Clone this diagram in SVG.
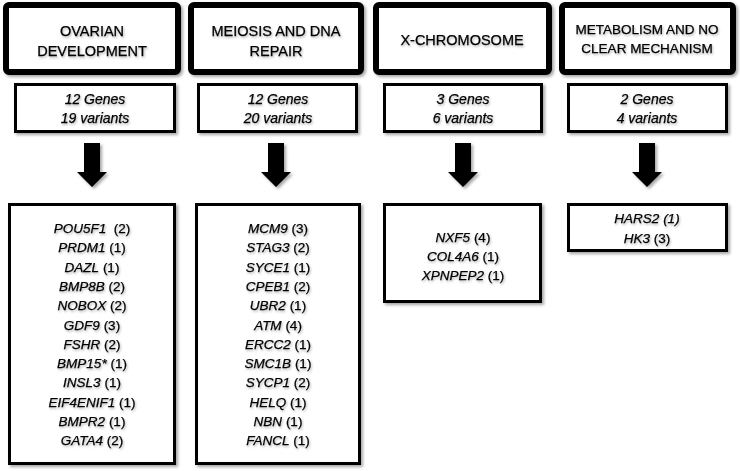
<svg xmlns="http://www.w3.org/2000/svg" width="740" height="471" viewBox="0 0 740 471">
<defs>
<filter id="sh" x="-10%" y="-10%" width="130%" height="130%">
<feDropShadow dx="2" dy="2" stdDeviation="1.5" flood-color="#000" flood-opacity="0.35"/>
</filter>
<filter id="tsh" x="-10%" y="-20%" width="130%" height="160%">
<feDropShadow dx="1" dy="1.5" stdDeviation="1" flood-color="#000" flood-opacity="0.3"/>
</filter>
<style>
.title{fill:#fff;stroke:#000;stroke-width:6;filter:url(#sh)}
.box{fill:#fff;stroke:#000;stroke-width:3;filter:url(#sh)}
.tt{font-family:"Liberation Sans",Arial,sans-serif;font-size:14.5px;fill:#000;stroke:#000;stroke-width:0.25;text-anchor:middle;filter:url(#tsh)}
.ct{font-family:"Liberation Sans",Arial,sans-serif;font-size:14px;font-style:italic;fill:#000;stroke:#000;stroke-width:0.25;text-anchor:middle;filter:url(#tsh)}
.gt{font-family:"Liberation Sans",Arial,sans-serif;font-size:13.5px;fill:#000;stroke:#000;stroke-width:0.25;text-anchor:middle;filter:url(#tsh)}
.i{font-style:italic}
.arrow{fill:#000;filter:url(#sh)}
</style>
</defs>

<g id="title-ovarian">
<rect class="title" x="6" y="5" width="172" height="67" rx="3"/>
<text class="tt" x="92" y="36">OVARIAN</text>
<text class="tt" x="92" y="56">DEVELOPMENT</text>
</g>
<g id="title-meiosis">
<rect class="title" x="191" y="5" width="170" height="67" rx="3"/>
<text class="tt" x="276" y="36">MEIOSIS AND DNA</text>
<text class="tt" x="276" y="56">REPAIR</text>
</g>
<g id="title-x">
<rect class="title" x="376" y="5" width="173" height="67" rx="3"/>
<text class="tt" x="462" y="45">X-CHROMOSOME</text>
</g>
<g id="title-metabolism">
<rect class="title" x="562" y="5" width="171" height="67" rx="3"/>
<text class="tt" x="647" y="34" style="font-size:13.5px">METABOLISM AND NO</text>
<text class="tt" x="647" y="53" style="font-size:13.5px">CLEAR MECHANISM</text>
</g>

<g id="count-ovarian">
<rect class="box" x="15.5" y="84.5" width="159" height="47"/>
<text class="ct" x="95" y="104">12 Genes</text>
<text class="ct" x="95" y="123">19 variants</text>
</g>
<g id="count-meiosis">
<rect class="box" x="198.5" y="84.5" width="158" height="47"/>
<text class="ct" x="278" y="104">12 Genes</text>
<text class="ct" x="278" y="123">20 variants</text>
</g>
<g id="count-x">
<rect class="box" x="384.5" y="84.5" width="157" height="47"/>
<text class="ct" x="463" y="104">3 Genes</text>
<text class="ct" x="463" y="123">6 variants</text>
</g>
<g id="count-metabolism">
<rect class="box" x="568.5" y="84.5" width="158" height="47"/>
<text class="ct" x="647" y="104">2 Genes</text>
<text class="ct" x="647" y="123">4 variants</text>
</g>

<g id="connectors">
<path class="arrow" d="M84,143 H100 V172 H107 L92,187 L77,172 H84 Z"/>
<path class="arrow" d="M268,143 H284 V172 H291 L276,187 L261,172 H268 Z"/>
<path class="arrow" d="M455,143 H471 V172 H478 L463,187 L448,172 H455 Z"/>
<path class="arrow" d="M639,143 H655 V172 H662 L647,187 L632,172 H639 Z"/>
</g>

<g id="genes-ovarian">
<rect class="box" x="9.5" y="204.5" width="165" height="259"/>
<text class="gt" x="92" y="233"><tspan class="i">POU5F1</tspan>&#160; (2)</text>
<text class="gt" x="92" y="252.3"><tspan class="i">PRDM1</tspan> (1)</text>
<text class="gt" x="92" y="271.6"><tspan class="i">DAZL</tspan> (1)</text>
<text class="gt" x="92" y="290.9"><tspan class="i">BMP8B</tspan> (2)</text>
<text class="gt" x="92" y="310.2"><tspan class="i">NOBOX</tspan> (2)</text>
<text class="gt" x="92" y="329.5"><tspan class="i">GDF9</tspan> (3)</text>
<text class="gt" x="92" y="348.8"><tspan class="i">FSHR</tspan> (2)</text>
<text class="gt" x="92" y="368.1"><tspan class="i">BMP15*</tspan> (1)</text>
<text class="gt" x="92" y="387.4"><tspan class="i">INSL3</tspan> (1)</text>
<text class="gt" x="92" y="406.7"><tspan class="i">EIF4ENIF1</tspan> (1)</text>
<text class="gt" x="92" y="426"><tspan class="i">BMPR2</tspan> (1)</text>
<text class="gt" x="92" y="445.3"><tspan class="i">GATA4</tspan> (2)</text>
</g>
<g id="genes-meiosis">
<rect class="box" x="196.5" y="204.5" width="163" height="259"/>
<text class="gt" x="278" y="233"><tspan class="i">MCM9</tspan> (3)</text>
<text class="gt" x="278" y="252.3"><tspan class="i">STAG3</tspan> (2)</text>
<text class="gt" x="278" y="271.6"><tspan class="i">SYCE1</tspan> (1)</text>
<text class="gt" x="278" y="290.9"><tspan class="i">CPEB1</tspan> (2)</text>
<text class="gt" x="278" y="310.2"><tspan class="i">UBR2</tspan> (1)</text>
<text class="gt" x="278" y="329.5"><tspan class="i">ATM</tspan> (4)</text>
<text class="gt" x="278" y="348.8"><tspan class="i">ERCC2</tspan> (1)</text>
<text class="gt" x="278" y="368.1"><tspan class="i">SMC1B</tspan> (1)</text>
<text class="gt" x="278" y="387.4"><tspan class="i">SYCP1</tspan> (2)</text>
<text class="gt" x="278" y="406.7"><tspan class="i">HELQ</tspan> (1)</text>
<text class="gt" x="278" y="426"><tspan class="i">NBN</tspan> (1)</text>
<text class="gt" x="278" y="445.3"><tspan class="i">FANCL</tspan> (1)</text>
</g>
<g id="genes-x">
<rect class="box" x="384.5" y="204.5" width="156" height="97"/>
<text class="gt" x="463" y="242"><tspan class="i">NXF5</tspan> (4)</text>
<text class="gt" x="463" y="261"><tspan class="i">COL4A6</tspan> (1)</text>
<text class="gt" x="463" y="280"><tspan class="i">XPNPEP2</tspan> (1)</text>
</g>
<g id="genes-metabolism">
<rect class="box" x="568.5" y="204.5" width="158" height="46"/>
<text class="gt i" x="647" y="223">HARS2 (1)</text>
<text class="gt" x="647" y="243"><tspan class="i">HK3</tspan> (3)</text>
</g>
</svg>
